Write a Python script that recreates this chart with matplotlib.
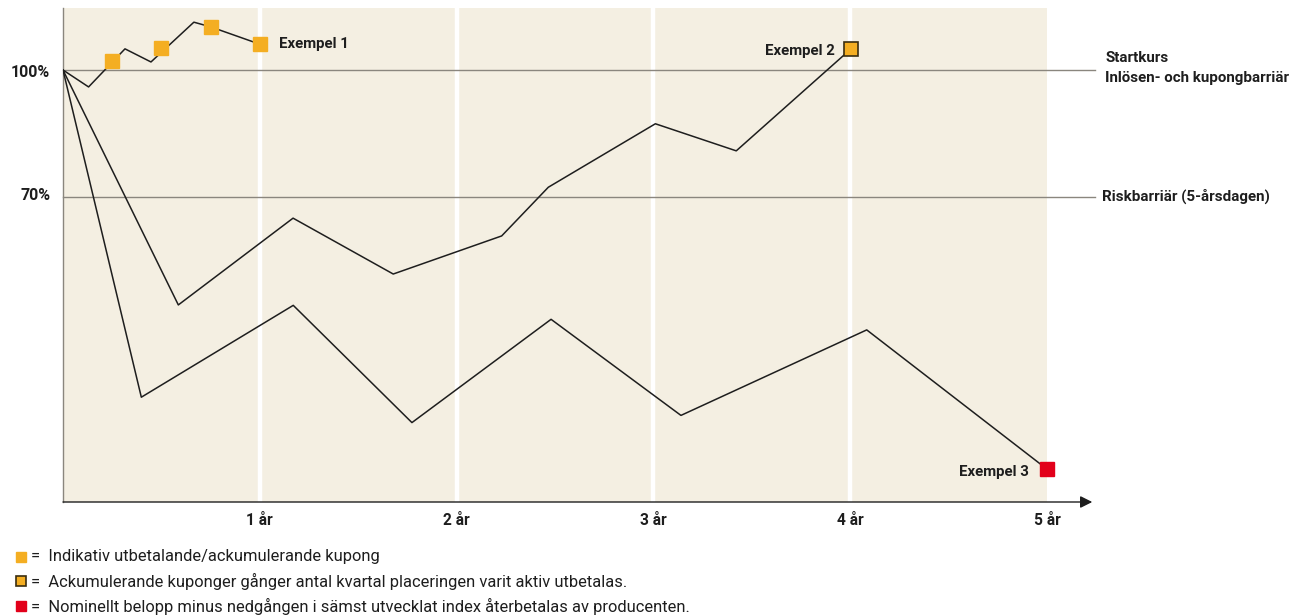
import matplotlib
matplotlib.use('Agg')
import matplotlib.pyplot as plt
from matplotlib.lines import Line2D

plt.rcParams['font.family'] = ['Roboto', 'DejaVu Sans']

# ── Colors ──
BEIGE = '#F4EFE2'
ORANGE = '#F4AE22'
RED = '#E2001A'
INK = '#1E1E1E'
GREY = '#8A867E'

# ── Data (år, % av startkurs) ──
ex1_t = [0, 0.13, 0.315, 0.447, 0.665, 0.75, 1.0]
ex1_v = [100, 96.0, 105.0, 101.9, 111.3, 110.2, 106.1]
ex1_coupon_t = [0.25, 0.5, 0.75, 1.0]
ex1_coupon_v = [102.1, 105.2, 110.2, 106.1]

ex2_t = [0, 0.586, 1.169, 1.678, 2.229, 2.466, 3.010, 3.421, 4.004]
ex2_v = [100, 44.5, 65.0, 51.8, 60.8, 72.3, 87.3, 80.9, 105.0]

ex3_t = [0, 0.398, 1.170, 1.773, 2.480, 3.140, 4.084, 5.0]
ex3_v = [100, 22.7, 44.4, 16.7, 41.1, 18.4, 38.6, 5.7]

years = [1, 2, 3, 4, 5]
year_labels = ['1 år', '2 år', '3 år', '4 år', '5 år']
barriers = [100, 70]
barrier_labels = ['100%', '70%']

legend_texts = [
    '=  Indikativ utbetalande/ackumulerande kupong',
    '=  Ackumulerande kuponger gånger antal kvartal placeringen varit aktiv utbetalas.',
    '=  Nominellt belopp minus nedgången i sämst utvecklat index återbetalas av producenten.',
]

W, H = 1303, 616
fig = plt.figure(figsize=(W / 100, H / 100), dpi=100)
ax = fig.add_axes([63 / W, (H - 502) / H, (1047 - 63) / W, (502 - 8) / H])
ax.set_xlim(0, 5)
ax.set_ylim(-2.06, 114.65)
ax.set_facecolor(BEIGE)

for s in ['top', 'right', 'bottom']:
    ax.spines[s].set_visible(False)
ax.spines['left'].set_color(GREY)
ax.spines['left'].set_linewidth(1.0)
ax.set_xticks([])
ax.set_yticks([])

# white year dividers
for yr in years[:-1]:
    ax.axvline(yr, color='white', lw=3.2, zorder=1)

# barrier lines, running past the plot
for b in barriers:
    ax.plot([0, 5.245], [b, b], color=GREY, lw=1.0, clip_on=False, zorder=2)

# x axis with arrow
ax.annotate('', xy=(5.23, -2.06), xytext=(0, -2.06), xycoords='data',
            arrowprops=dict(arrowstyle='-|>', color=INK, lw=1.0,
                            mutation_scale=18, shrinkA=0, shrinkB=0),
            annotation_clip=False)

# series
for t, v in [(ex1_t, ex1_v), (ex2_t, ex2_v), (ex3_t, ex3_v)]:
    ax.plot(t, v, color=INK, lw=1.1, zorder=3)

ax.plot(ex1_coupon_t, ex1_coupon_v, ls='none', marker='s', ms=10.5,
        color=ORANGE, mec=ORANGE, zorder=4, clip_on=False)
ax.plot(ex2_t[-1], ex2_v[-1], ls='none', marker='s', ms=10,
        color=ORANGE, mec='#3A2E10', mew=1.2, zorder=4, clip_on=False)
ax.plot(ex3_t[-1], ex3_v[-1], ls='none', marker='s', ms=10.5,
        color=RED, mec=RED, zorder=4, clip_on=False)

lab = dict(fontsize=10.8, fontweight='bold', color=INK, va='center')
ax.text(1.098, ex1_coupon_v[-1], 'Exempel 1', ha='left', **lab)
ax.text(ex2_t[-1] - 0.08, ex2_v[-1] - 0.6, 'Exempel 2', ha='right', **lab)
ax.text(ex3_t[-1] - 0.09, ex3_v[-1] - 0.6, 'Exempel 3', ha='right', **lab)

# y labels
for b, txt in zip(barriers, barrier_labels):
    ax.text(-0.065, b - 0.5 if b == 100 else b + 0.4, txt, ha='right',
            va='center', fontsize=11.5, fontweight='bold', color=INK)

# x labels
for yr, txt in zip(years, year_labels):
    ax.text(yr, -4.6, txt, ha='center', va='top', fontsize=11.2,
            fontweight='bold', color=INK, clip_on=False)

# right-hand barrier annotations
side = dict(fontsize=10.9, fontweight='bold', color=INK, va='center', ha='left')
fig.text(1105 / W, 1 - 58 / H, 'Startkurs', **side)
fig.text(1105 / W, 1 - 78 / H, 'Inlösen- och kupongbarriär', **side)
fig.text(1102 / W, 1 - 196 / H, 'Riskbarriär (5-årsdagen)', **side)

# legend below the chart
leg_y = [557, 581, 606]
leg_style = [dict(color=ORANGE, mec=ORANGE),
             dict(color=ORANGE, mec='#3A2E10', mew=1.2),
             dict(color=RED, mec=RED)]
for y, txt, st in zip(leg_y, legend_texts, leg_style):
    fig.add_artist(Line2D([21 / W], [1 - y / H], marker='s', ms=7.5, ls='none',
                          transform=fig.transFigure, **st))
    fig.text(31 / W, 1 - y / H, txt, fontsize=11.9, color=INK,
             va='center', ha='left')

fig.savefig('out.png', dpi=100, facecolor='white')
